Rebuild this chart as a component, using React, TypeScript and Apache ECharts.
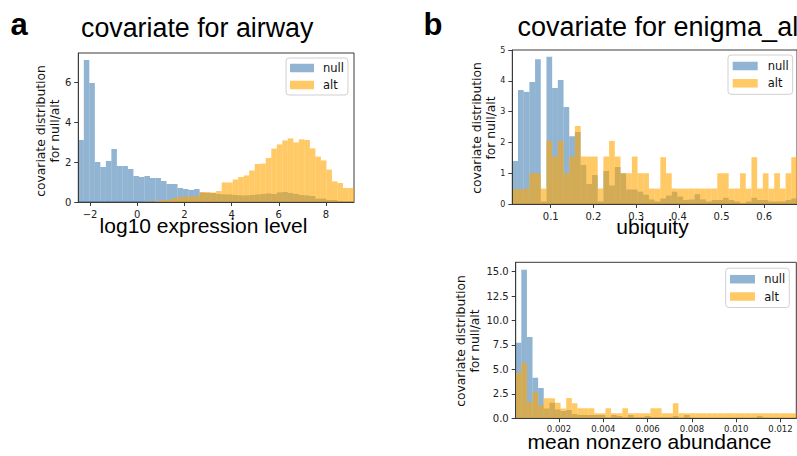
import React, { useEffect, useRef } from "react";
import * as echarts from "echarts";

// ---- data (histogram densities, 50 bins each) ----
const airwayRange = [-2.5, 9.19];
const airwayNull = [3.1, 7.1, 5.95, 2.0, 1.75, 2.05, 2.65, 1.8, 1.8, 1.65, 1.3, 1.25, 1.3, 1.2, 1.2, 1.05, 0.9, 0.9, 0.7, 0.65, 0.6, 0.65, 0.47, 0.45, 0.45, 0.4, 0.38, 0.37, 0.35, 0.33, 0.33, 0.35, 0.38, 0.4, 0.43, 0.4, 0.48, 0.5, 0.45, 0.4, 0.35, 0.33, 0.3, 0.17, 0.17, 0.1, 0.1, 0.05, 0.03, 0.02];
const airwayAlt = [0, 0, 0, 0, 0, 0, 0, 0, 0, 0, 0, 0, 0.01, 0.02, 0.05, 0.1, 0.1, 0.2, 0.25, 0.28, 0.28, 0.3, 0.5, 0.5, 0.47, 0.55, 0.98, 0.98, 1.12, 1.25, 1.33, 1.58, 1.9, 1.92, 2.2, 2.67, 2.88, 3.08, 3.18, 2.98, 3.13, 3.1, 2.68, 2.27, 2.08, 1.62, 1.03, 0.95, 0.7, 0.7];
const airwayXTicks = [-2, 0, 2, 4, 6, 8];
const airwayYTicks = [0, 2, 4, 6];

const ubiqRange = [0.01, 0.6767];
const ubiqNull = [1.4, 3.7, 3.64, 3.96, 4.7, 0.08, 4.78, 3.77, 4.03, 3.15, 2.2, 2.34, 1.27, 0.65, 0.94, 0.08, 1.07, 0.6, 1.2, 1.0, 0.47, 0.47, 0.4, 0.3, 0.15, 0.08, 0.18, 0.28, 0.4, 0.24, 0.13, 0.15, 0.32, 0.15, 0.08, 0.13, 0.13, 0.2, 0.13, 0.08, 0.02, 0.08, 0.2, 0.13, 0.13, 0.08, 0.08, 0.08, 0.13, 0.18];
const ubiqAlt = [0.48, 0.48, 0.5, 1.0, 1.0, 0.5, 2.05, 1.54, 2.05, 1.0, 1.54, 2.53, 1.54, 1.54, 1.54, 0.5, 1.54, 2.05, 1.54, 1.0, 1.0, 1.54, 1.0, 1.0, 0.5, 0.5, 1.52, 1.0, 0.5, 0.5, 0.5, 0.5, 0.5, 0.5, 0.5, 0.5, 1.0, 1.0, 0.5, 0.5, 1.0, 0.5, 1.52, 0.5, 1.0, 0.5, 1.0, 0.5, 1.0, 1.52];
const ubiqXTicks = [0.1, 0.2, 0.3, 0.4, 0.5, 0.6];
const ubiqYTicks = [0, 1, 2, 3, 4, 5];

const abundRange = [0.000045, 0.012713];
const abundNull = [7.73, 15.2, 8.31, 4.15, 3.1, 1.0, 1.6, 0.9, 0.75, 0.85, 0.44, 0.34, 0.34, 0.34, 0.34, 0.34, 0.1, 0.34, 0.24, 0.1, 0.34, 0.1, 0.1, 0.24, 0.1, 0.1, 0.1, 0.1, 0.24, 0.05, 0.34, 0.05, 0.05, 0.05, 0.05, 0.05, 0.05, 0.05, 0.05, 0.05, 0.05, 0.05, 0.05, 0.24, 0.05, 0.05, 0.05, 0.05, 0.05, 0.05];
const abundAlt = [4.66, 5.68, 1.64, 2.66, 1.36, 2.05, 2.05, 1.6, 1.0, 2.08, 1.54, 1.02, 1.02, 1.02, 0.51, 0.51, 1.02, 0.51, 0.51, 1.02, 0.51, 0.51, 0.51, 0.51, 1.02, 1.02, 0.51, 0.51, 1.54, 0.51, 0.51, 0.51, 0.51, 0.51, 0.51, 0.51, 0.51, 0.51, 0.51, 0.51, 0.51, 0.51, 0.51, 0.51, 0.51, 0.51, 0.51, 0.51, 0.51, 0.51];
const abundXTicks = [0.002, 0.004, 0.006, 0.008, 0.01, 0.012];
const abundYTicks = [0, 2.5, 5, 7.5, 10, 12.5, 15];

const seriesNames = ["null", "alt"];

const NULL_COLOR = "rgba(70,130,180,0.6)";
const ALT_COLOR = "rgba(255,165,0,0.6)";
const SPINE = "#3a3a3a";
const TICKFONT = "DejaVu Sans";
const HEAD = "Liberation Sans";

function hist(values: number[], range: number[], idx: number, name: string, color: string) {
  const w = (range[1] - range[0]) / values.length;
  const data = values.map((v, i) => [range[0] + i * w, range[0] + (i + 1) * w, v]);
  return {
    type: "custom",
    name,
    xAxisIndex: idx,
    yAxisIndex: idx,
    data,
    clip: true,
    itemStyle: { color },
    encode: { x: [0, 1], y: 2 },
    renderItem: (params: any, api: any) => {
      const p0 = api.coord([api.value(0), api.value(2)]);
      const p1 = api.coord([api.value(1), 0]);
      return {
        type: "rect",
        shape: { x: p0[0], y: p0[1], width: p1[0] - p0[0], height: p1[1] - p0[1] },
        style: { fill: color },
      };
    },
  };
}

function xAx(gridIndex: number, range: number[], ticks: number[], fmt: (v: number) => string, fontSize: number, margin: number) {
  return {
    type: "value",
    gridIndex,
    min: range[0],
    max: range[1],
    z: 10,
    axisLine: { show: true, onZero: false, lineStyle: { color: SPINE, width: 1 } },
    axisTick: { show: true, inside: false, length: 4, customValues: ticks, lineStyle: { color: SPINE } },
    axisLabel: { show: true, customValues: ticks, formatter: fmt, margin, fontSize, fontFamily: TICKFONT, color: "#222" },
    splitLine: { show: false },
  };
}

function yAx(gridIndex: number, max: number, ticks: number[], fmt: (v: number) => string, fontSize: number) {
  return {
    type: "value",
    gridIndex,
    min: 0,
    max,
    z: 10,
    axisLine: { show: true, onZero: false, lineStyle: { color: SPINE, width: 1 } },
    axisTick: { show: true, inside: false, length: 4, customValues: ticks, lineStyle: { color: SPINE } },
    axisLabel: { show: true, customValues: ticks, formatter: fmt, margin: 7, fontSize, fontFamily: TICKFONT, color: "#222" },
    splitLine: { show: false },
  };
}

function legendAt(left: number, top: number, iw: number, gap: number, textPad: number, pad: number[]) {
  return {
    orient: "vertical",
    left,
    top,
    data: seriesNames,
    icon: "rect",
    itemWidth: iw,
    itemHeight: 8.5,
    itemGap: gap,
    padding: pad,
    borderColor: "#d0d0d0",
    borderWidth: 1,
    borderRadius: 3,
    backgroundColor: "rgba(255,255,255,0.8)",
    textStyle: { fontFamily: TICKFONT, fontSize: 11.5, color: "#111", lineHeight: 14, padding: [0, 0, 0, textPad] },
    selectedMode: false,
  };
}

const minusFmt = (v: number) => (v < 0 ? "\u2212" + Math.abs(v) : String(v));

function txt(text: string, x: number, baseline: number, fs: number, opts: any = {}) {
  return {
    type: "text",
    x,
    y: baseline - 0.35 * fs,
    z: 100,
    style: {
      text,
      fontSize: fs,
      fontFamily: opts.family || HEAD,
      fontWeight: opts.weight || "normal",
      fill: "#000",
      align: opts.align || "left",
      verticalAlign: "middle",
    },
  };
}

function ytitle(cx: number, cy: number, fs: number) {
  // two rotated lines; cx is the baseline of line 1, line 2 sits 14.5px to the right
  return [
    { type: "text", x: cx - 0.35 * fs, y: cy, rotation: Math.PI / 2, z: 100, style: { text: "covariate distribution", fontSize: fs, fontFamily: TICKFONT, fill: "#111", align: "center", verticalAlign: "middle" } },
    { type: "text", x: cx + 14.5 - 0.35 * fs, y: cy, rotation: Math.PI / 2, z: 100, style: { text: "for null/alt", fontSize: fs, fontFamily: TICKFONT, fill: "#111", align: "center", verticalAlign: "middle" } },
  ];
}

export default function App() {
  const ref = useRef<HTMLDivElement>(null);
  useEffect(() => {
    if (!ref.current) return;
    const chart = echarts.init(ref.current, undefined, { renderer: "svg" });
    const gridStyle = { show: true, borderColor: SPINE, borderWidth: 1, backgroundColor: "transparent", containLabel: false };
    chart.setOption({
      animation: false,
      backgroundColor: "#fff",
      grid: [
        { ...gridStyle, left: 78.3, top: 53, width: 275.7, height: 149 },
        { ...gridStyle, left: 512.3, top: 50, width: 286.7, height: 154 },
        { ...gridStyle, left: 515.7, top: 262.3, width: 280.6, height: 156 },
      ],
      xAxis: [
        xAx(0, airwayRange, airwayXTicks, minusFmt, 10, 7),
        xAx(1, ubiqRange, ubiqXTicks, (v: number) => v.toFixed(1), 10, 7),
        xAx(2, abundRange, abundXTicks, (v: number) => v.toFixed(3), 8.5, 6),
      ],
      yAxis: [
        yAx(0, 7.45, airwayYTicks, (v: number) => String(v), 10),
        yAx(1, 5, ubiqYTicks, (v: number) => String(v), 8),
        yAx(2, 15.95, abundYTicks, (v: number) => v.toFixed(1), 10),
      ],
      legend: [
        legendAt(286, 58, 24, 3, 4, [3, 4, 3, 4]),
        legendAt(728, 55, 25, 3.3, 5, [4, 4, 4, 4.7]),
        legendAt(725.7, 268.2, 25, 3.3, 4.3, [4, 4, 4, 4.3]),
      ],
      series: [
        hist(airwayNull, airwayRange, 0, "null", NULL_COLOR),
        hist(airwayAlt, airwayRange, 0, "alt", ALT_COLOR),
        hist(ubiqNull, ubiqRange, 1, "null", NULL_COLOR),
        hist(ubiqAlt, ubiqRange, 1, "alt", ALT_COLOR),
        hist(abundNull, abundRange, 2, "null", NULL_COLOR),
        hist(abundAlt, abundRange, 2, "alt", ALT_COLOR),
      ],
      graphic: [
        txt("a", 10.5, 35.5, 31, { weight: "bold" }),
        txt("b", 423.5, 35.5, 31, { weight: "bold" }),
        txt("covariate for airway", 81, 37, 26.8),
        txt("covariate for enigma_al", 517.5, 36, 27),
        txt("log10 expression level", 203.5, 233, 21, { align: "center" }),
        txt("ubiquity", 652.5, 233.5, 21, { align: "center" }),
        txt("mean nonzero abundance", 649.5, 449, 21, { align: "center" }),
        ...ytitle(45, 131, 12.3),
        ...ytitle(481, 128, 12.3),
        ...ytitle(465, 341, 12.3),
      ],
    });
    return () => chart.dispose();
  }, []);
  return <div ref={ref} style={{ position: "fixed", left: 0, top: 0, width: 797, height: 456 }} />;
}
